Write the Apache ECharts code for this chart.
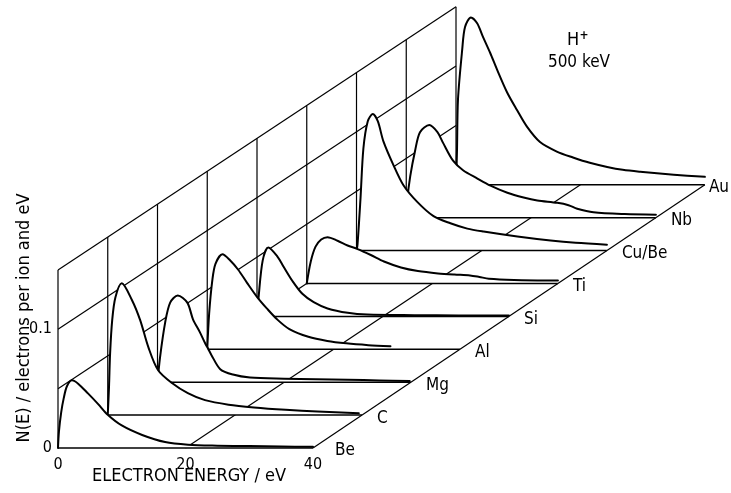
<!DOCTYPE html>
<html><head><meta charset="utf-8">
<script src="https://cdn.jsdelivr.net/npm/echarts@6/dist/echarts.min.js"></script>
<style>html,body{margin:0;padding:0;background:#fff}#c{width:731px;height:493px}</style>
</head><body><div id="c"></div>
<script>
// ---- data (electron energy in eV, N(E) in electrons per ion and eV) ----
const materials = ['Be', 'C', 'Mg', 'Al', 'Si', 'Ti', 'Cu/Be', 'Nb', 'Au'];

const curveBe = [[0,0],[0.15,0.014],[0.5,0.03],[0.9,0.042],[1.4,0.052],[2.2,0.057],[3.2,0.054],[4.7,0.046],[6.3,0.037],[7.8,0.028],[10,0.019],[13.2,0.011],[16.8,0.005],[20.4,0.0028],[25,0.002],[30,0.0016],[35,0.0012],[40,0.001]];
const curveC = [[0,0],[0.2,0.024],[0.37,0.052],[0.7,0.08],[1.2,0.099],[2.2,0.111],[3.8,0.097],[5.1,0.08],[6.4,0.057],[7.9,0.038],[10.1,0.027],[12.6,0.0185],[15.3,0.0126],[19,0.0088],[23,0.0065],[28,0.0045],[33,0.003],[39.5,0.0015]];
const curveMg = [[0,0],[0.4,0.021],[1.2,0.05],[2.0,0.067],[3.2,0.073],[4.7,0.067],[5.6,0.053],[6.7,0.042],[7.5,0.033],[8.0,0.028],[8.5,0.023],[9.9,0.011],[11.9,0.0065],[14.6,0.004],[20,0.003],[25,0.0025],[30,0.002],[35,0.0015],[39.8,0.001]];
const curveAl = [[0,0],[0.3,0.03],[0.8,0.058],[1.3,0.072],[2.4,0.08],[3.6,0.075],[4.9,0.067],[6.3,0.056],[7.9,0.044],[9.5,0.034],[11.1,0.025],[13,0.017],[16,0.0105],[19,0.007],[22,0.005],[25.5,0.0035],[29,0.0025]];
const curveSi = [[0,0],[0.25,0.016],[0.9,0.047],[1.8,0.058],[3.3,0.05],[4.2,0.042],[5.6,0.03],[7.2,0.019],[9,0.012],[11.2,0.0067],[14.4,0.003],[17.5,0.0015],[25,0.001],[32,0.0008],[40,0.0008]];
const curveTi = [[0,0],[0.64,0.0185],[1.4,0.031],[2.3,0.037],[3.3,0.039],[4.9,0.036],[6.5,0.032],[8.1,0.029],[10.2,0.024],[12.3,0.0185],[15,0.0135],[17.7,0.0105],[20.9,0.0085],[23.5,0.0075],[26,0.0068],[27.5,0.0055],[29,0.004],[33,0.003],[40,0.0025]];
const curveCuBe = [[0,0],[0.16,0.005],[0.64,0.044],[1.1,0.086],[1.8,0.109],[2.6,0.115],[3.4,0.109],[4.3,0.092],[5.9,0.072],[7.5,0.055],[9.7,0.041],[12.3,0.029],[15,0.023],[17.7,0.0185],[20.3,0.016],[25.7,0.0118],[31,0.0084],[35,0.0065],[40,0.005]];
const curveNb = [[0,0],[0.16,0.015],[0.64,0.035],[1.4,0.056],[2.2,0.072],[3.7,0.078],[5,0.072],[5.9,0.063],[7.5,0.048],[9.1,0.04],[11.4,0.033],[13.5,0.027],[16.2,0.021],[18.8,0.017],[21,0.0145],[24.2,0.0125],[26,0.0105],[27.4,0.0075],[30,0.0045],[35,0.003],[40,0.0025]];
const curveAu = [[0,0],[0.16,0.029],[0.32,0.072],[1.0,0.114],[1.45,0.133],[2.4,0.141],[3.4,0.136],[4.3,0.125],[5.5,0.111],[6.6,0.097],[8.2,0.078],[9.8,0.063],[11.4,0.049],[13.5,0.036],[16.2,0.028],[18.8,0.023],[21.5,0.0185],[24.3,0.015],[26.8,0.0126],[29.6,0.011],[35,0.0085],[40,0.0067]];
const curves = [curveBe, curveC, curveMg, curveAl, curveSi, curveTi, curveCuBe, curveNb, curveAu];

const xTickLabels = [0, 20, 40];
const yTickLabels = [0, 0.1];
const wallLevels = [0.05, 0.1, 0.15];
const floorEnergies = [0, 20, 40];
const energyMax = 40;
const wallTop = 0.15;

// label gaps (style only)
const labelGap = { 'Be': 22, 'Au': 4 };

// ---- oblique projection of (depth index, energy, N) into one cartesian system ----
const DX = 7.804, DY = 0.02772, SHRINK = 0.003;
function proj(d, E, N) { return [d * DX + E * (1 - SHRINK * d), d * DY + N]; }
const last = materials.length - 1;
const ink = '#000';
const font = 'DejaVu Sans Condensed, Liberation Sans Narrow, DejaVu Sans, sans-serif';

const series = [];
function seg(data, width, z) {
  series.push({ type: 'line', data, symbol: 'none', silent: true, animation: false, clip: false,
    lineStyle: { color: ink, width }, z });
}
// back wall (E = 0 plane): verticals and level lines
materials.forEach((m, d) => seg([proj(d, 0, 0), proj(d, 0, wallTop)], 1.2, 1));
wallLevels.forEach(v => seg([proj(0, 0, v), proj(last, 0, v)], 1.2, 1));
// floor lines at fixed energies
floorEnergies.forEach(E => seg([proj(0, E, 0), proj(last, E, 0)], 1.2, 1));
// curves, back to front, with white fill hiding what is behind
curves.forEach((c, d) => {
  const z = 2 + (last - d) * 2;
  series.push({ type: 'line', name: materials[d], data: c.map(p => proj(d, p[0], p[1])),
    symbol: 'none', silent: true, animation: false, clip: false,
    smooth: 0.3,
    lineStyle: { color: ink, width: 2, join: 'round', cap: 'round' },
    areaStyle: { color: '#fff', opacity: 1, origin: d * DY }, z });
  seg([proj(d, 0, 0), proj(d, energyMax, 0)], 1.5, z + 1);
});
// material labels at the end of each baseline
series.push({ type: 'scatter', symbolSize: 0, silent: true, animation: false, z: 50,
  itemStyle: { opacity: 1 },
  data: materials.map((m, d) => ({ name: m, value: proj(d, energyMax, 0),
    label: { distance: labelGap[m] !== undefined ? labelGap[m] : 15 } })),
  label: { show: true, position: 'right', distance: 15, offset: [0, 3], formatter: '{b}',
    color: ink, opacity: 1, fontSize: 17, fontFamily: font } });

const chart = echarts.init(document.getElementById('c'), null, { renderer: 'canvas' });
chart.setOption({
  backgroundColor: '#fff',
  animation: false,
  grid: { left: 58, right: 3.625, top: 2.875, bottom: 45 },
  xAxis: { type: 'value', min: 0, max: 105, interval: 20,
    axisLine: { show: false }, axisTick: { show: false }, splitLine: { show: false },
    axisLabel: { margin: 9, color: ink, fontSize: 16, fontFamily: font, showMaxLabel: false,
      formatter: v => xTickLabels.some(t => Math.abs(t - v) < 1e-9) ? String(v) : '' } },
  yAxis: { type: 'value', min: 0, max: 0.375, interval: 0.05,
    axisLine: { show: false }, axisTick: { show: false }, splitLine: { show: false },
    axisLabel: { margin: 6, color: ink, fontSize: 16, fontFamily: font, showMaxLabel: false,
      formatter: v => yTickLabels.some(t => Math.abs(t - v) < 1e-9) ? String(+v.toFixed(2)) : '' } },
  graphic: [
    { type: 'text', x: 24, y: 318, rotation: Math.PI / 2, silent: true,
      style: { text: 'N(E) / electrons per ion and eV', fill: ink, fontSize: 18, fontFamily: font,
        textAlign: 'center', textVerticalAlign: 'middle' } },
    { type: 'text', x: 189, y: 476, silent: true,
      style: { text: 'ELECTRON ENERGY / eV', fill: ink, fontSize: 18, fontFamily: font,
        textAlign: 'center', textVerticalAlign: 'middle' } },
    { type: 'text', x: 573, y: 40, silent: true,
      style: { text: 'H', fill: ink, fontSize: 18, fontFamily: font, textAlign: 'center', textVerticalAlign: 'middle' } },
    { type: 'text', x: 584, y: 36, silent: true,
      style: { text: '+', fill: ink, fontSize: 12, fontWeight: 'bold', fontFamily: font, textAlign: 'center', textVerticalAlign: 'middle' } },
    { type: 'text', x: 579, y: 63, silent: true,
      style: { text: '500 keV', fill: ink, fontSize: 17, fontFamily: font, textAlign: 'center', textVerticalAlign: 'middle' } }
  ],
  series
});
</script></body></html>
